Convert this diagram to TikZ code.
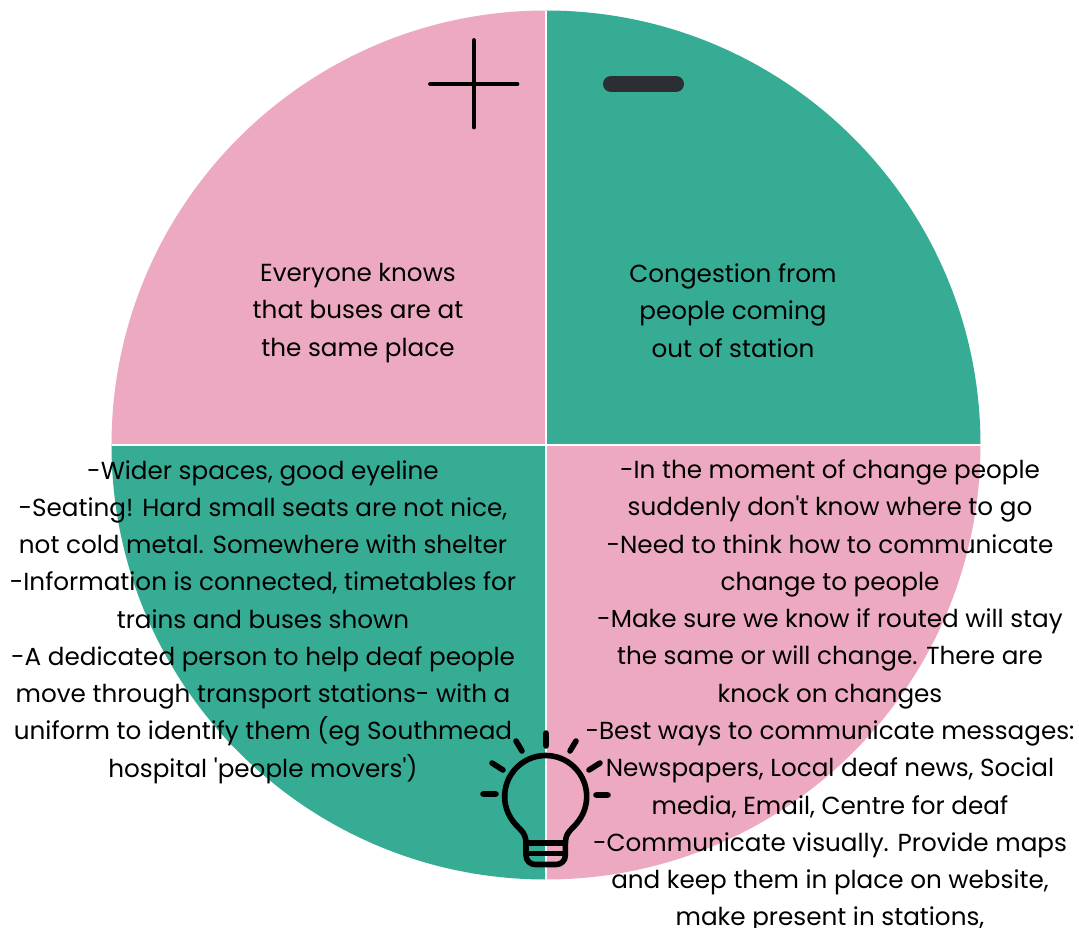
\documentclass[tikz,border=0pt]{standalone}
\usepackage{fontspec}
\setmainfont[Ligatures=NoCommon]{Poppins}
\definecolor{pinkq}{HTML}{EDA9C1}
\definecolor{greenq}{HTML}{36AC94}
\definecolor{minusc}{HTML}{2B2F33}
\tikzset{
 txt/.style={align=center,font=\fontsize{18.5}{27.95}\selectfont,text=black,inner sep=0pt,anchor=center},
 bulb/.style={black,line width=4.2pt,line cap=round,line join=round}}
\begin{document}
\begin{tikzpicture}[x=0.75pt,y=-0.75pt]
\useasboundingbox (0,0) rectangle (1079,928);
\fill[white] (0,0) rectangle (1079,928);
\fill[pinkq] (546,445) -- (111.5,445) arc[start angle=180,end angle=90,x radius=434.5,y radius=-434.5] -- cycle;
\fill[greenq] (546,445) -- (546,10.5) arc[start angle=90,end angle=0,x radius=434.5,y radius=-434.5] -- cycle;
\fill[greenq] (546,445) -- (111.5,445) arc[start angle=180,end angle=270,x radius=434.5,y radius=-434.5] -- cycle;
\fill[pinkq] (546,445) -- (980.5,445) arc[start angle=0,end angle=-90,x radius=434.5,y radius=-434.5] -- cycle;
\draw[white,line width=0.9pt] (546,10.5) -- (546,879.5) (111.5,445) -- (980.5,445);
\draw[black,line width=3.7pt,line cap=round] (430.5,84) -- (517,84) (474,40.5) -- (474,127);
\draw[minusc,line width=12pt,line cap=round] (611,84) -- (676,84);
\node[txt] (a) at (358,313) {Everyone knows\\that buses are at\\the same place};
\node[txt] (b) at (733,310.5) {Congestion from\\people coming\\out of station};
\node[txt] (l) at (263,622) {-Wider spaces, good eyeline\\-Seating! Hard small seats are not nice,\\not cold metal. Somewhere with shelter\\-Information is connected, timetables for\\trains and buses shown\\-A dedicated person to help deaf people\\move through transport stations- with a\\uniform to identify them (eg Southmead\\hospital \textquotesingle people movers\textquotesingle)};
\node[txt] (r) at (830,696) {-In the moment of change people\\suddenly don\textquotesingle t know where to go\\-Need to think how to communicate\\change to people\\-Make sure we know if routed will stay\\the same or will change. There are\\knock on changes\\-Best ways to communicate messages:\\Newspapers, Local deaf news, Social\\media, Email, Centre for deaf\\-Communicate visually. Provide maps\\and keep them in place on website,\\make present in stations,};
% light bulb
\draw[bulb] (526,843) .. controls (526,831) and (518,829) .. (512.1,820) arc[start angle=215,end angle=-35,x radius=41,y radius=-41] .. controls (573.4,829) and (565.4,831) .. (565.4,843) -- (565.4,855) .. controls (565.4,861) and (561,864.5) .. (556,864.5) -- (535.4,864.5) .. controls (530.4,864.5) and (526,861) .. (526,855) -- cycle;
\draw[bulb] (526,843) -- (565.4,843) (526,853.5) -- (565.4,853.5);
\draw[bulb] (546,733) -- (546,746) (516,741) -- (522,751) (492,763) -- (503,770) (483,794) -- (496,794) (576,741) -- (570,751) (600,763) -- (589,770) (596,795) -- (608,795);
\end{tikzpicture}
\end{document}
